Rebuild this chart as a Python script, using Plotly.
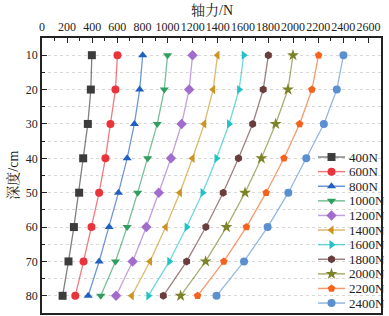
import plotly.graph_objects as go

depth = [10, 20, 30, 40, 50, 60, 70, 80]
series_names = ["400N", "600N", "800N", "1000N", "1200N", "1400N",
                "1600N", "1800N", "2000N", "2200N", "2400N"]
f400 = [397, 389, 365, 328, 296, 254, 211, 164]
f600 = [601, 585, 545, 505, 455, 394, 331, 265]
f800 = [802, 778, 736, 678, 609, 535, 455, 368]
f1000 = [1000, 974, 918, 842, 762, 678, 585, 468]
f1200 = [1199, 1172, 1112, 1027, 930, 831, 722, 590]
f1400 = [1398, 1363, 1292, 1199, 1098, 985, 860, 715]
f1600 = [1607, 1570, 1490, 1390, 1279, 1152, 1014, 847]
f1800 = [1803, 1762, 1678, 1565, 1443, 1305, 1152, 966]
f2000 = [1999, 1959, 1861, 1747, 1617, 1469, 1303, 1104]
f2200 = [2203, 2150, 2052, 1927, 1785, 1628, 1448, 1239]
f2400 = [2401, 2348, 2245, 2105, 1962, 1797, 1609, 1390]
values = [f400, f600, f800, f1000, f1200, f1400, f1600, f1800, f2000, f2200, f2400]
x_title = "轴力/N"
y_title = "深度/cm"

colors = ["#3c3c3c", "#e8343a", "#2260c0", "#2f9e5e", "#a26ccc", "#cc9420",
          "#20c2c8", "#6b3c3c", "#7c8226", "#f4621c", "#5b90d0"]
symbols = ["square", "circle", "triangle-up", "triangle-down", "diamond",
           "triangle-left", "triangle-right", "hexagon", "star", "pentagon", "circle"]


def rgba(h, a):
    h = h.lstrip("#")
    r, g, b = int(h[0:2], 16), int(h[2:4], 16), int(h[4:6], 16)
    return f"rgba({r},{g},{b},{a})"


FONT = "Liberation Serif, Times New Roman, Noto Serif CJK SC, Noto Sans CJK SC, serif"

W, H = 389, 316

fig = go.Figure()
for name, vals, c, s in zip(series_names, values, colors, symbols):
    fig.add_trace(go.Scatter(
        x=vals, y=depth, mode="lines+markers", name=name,
        line=dict(color=rgba(c, 0.65), width=1.3),
        marker=dict(color=c, symbol=s, size=9 if s == "star" else 8,
                    line=dict(width=0)),
        showlegend=False,
    ))

# compact legend drawn on an overlay axis (row index on y2)
annotations = []
for i, (name, c, s) in enumerate(zip(series_names, colors, symbols)):
    fig.add_trace(go.Scatter(
        x=[318, 345], y=[i, i], mode="lines", xaxis="x2", yaxis="y2",
        line=dict(color=rgba(c, 0.65), width=1.5), showlegend=False,
        hoverinfo="skip"))
    fig.add_trace(go.Scatter(
        x=[331.5], y=[i], mode="markers", xaxis="x2", yaxis="y2",
        marker=dict(color=c, symbol=s, size=9 if s == "star" else 8),
        showlegend=False, hoverinfo="skip", cliponaxis=False))
    annotations.append(dict(
        x=347, y=i, xref="x2", yref="y2", text=name, showarrow=False,
        xanchor="left", yanchor="middle",
        font=dict(family=FONT, size=13, color="#222")))

# axis titles
annotations.append(dict(x=0.5, y=1.1, xref="paper", yref="paper", text=x_title,
                        showarrow=False, xanchor="center", yanchor="middle",
                        font=dict(family=FONT, size=14, color="#222")))
annotations.append(dict(x=-0.088, y=0.5, xref="paper", yref="paper", text=y_title,
                        showarrow=False, xanchor="center", yanchor="middle",
                        textangle=-90,
                        font=dict(family=FONT, size=14, color="#222")))

fig.update_layout(
    width=W, height=H,
    margin=dict(l=42, r=8, t=38, b=3),
    paper_bgcolor="white", plot_bgcolor="white",
    font=dict(family=FONT, size=12, color="#222"),
    annotations=annotations,
    xaxis=dict(
        side="top", range=[0, 2700], tick0=0, dtick=200, tickangle=0,
        automargin=False,
        ticks="inside", ticklen=5, tickwidth=1.2, tickcolor="#222",
        minor=dict(dtick=100, ticks="inside", ticklen=3, tickwidth=1, tickcolor="#222"),
        showline=True, linecolor="#222", linewidth=1.5, mirror=True,
        showgrid=False, zeroline=False,
        tickfont=dict(size=12),
    ),
    yaxis=dict(
        range=[85, 5], tick0=10, dtick=10, automargin=False,
        ticks="inside", ticklen=5, tickwidth=1.2, tickcolor="#222",
        minor=dict(dtick=5, tick0=5, ticks="inside", ticklen=3, tickwidth=1,
                   tickcolor="#222", showgrid=True, gridcolor="#d8d8d8",
                   griddash="dot", gridwidth=1),
        showline=True, linecolor="#222", linewidth=1.5, mirror=True,
        showgrid=True, gridcolor="#d8d8d8", griddash="dot", gridwidth=1,
        zeroline=False,
        tickfont=dict(size=12),
    ),
    xaxis2=dict(range=[42, 381], overlaying="x", visible=False, fixedrange=True),
    yaxis2=dict(range=[10.68, -8.15], overlaying="y", visible=False, fixedrange=True),
)

# remove the browser's default 8px body margin so the figure sits at the window origin
fig.write_html("out.html", config={"displayModeBar": False},
               post_script="document.body.style.margin='0';")
